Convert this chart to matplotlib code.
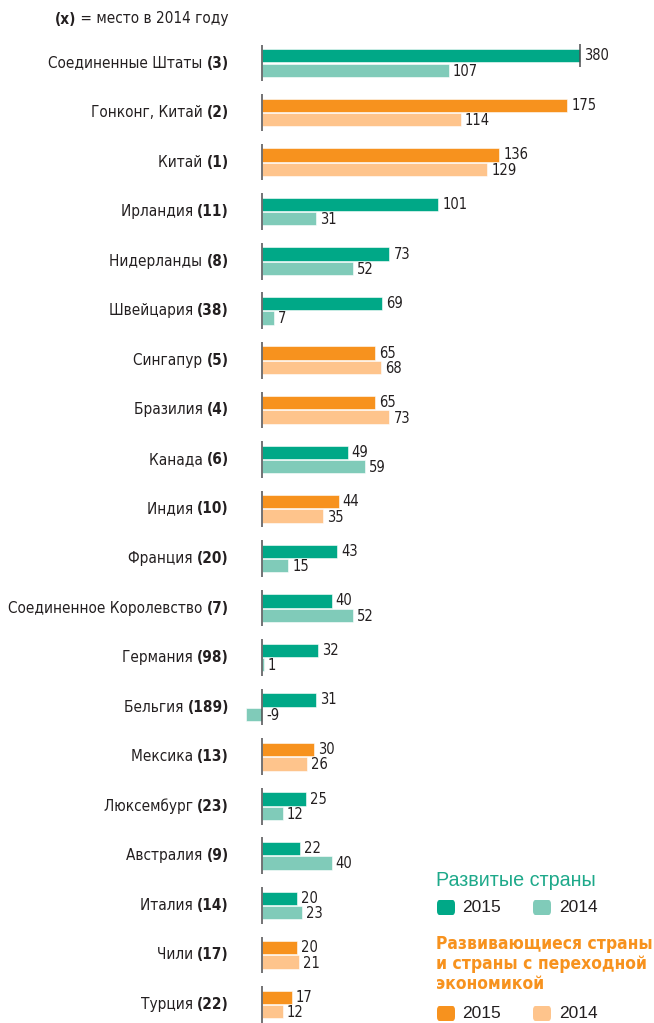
import matplotlib
matplotlib.use("Agg")
import matplotlib.pyplot as plt
import matplotlib.transforms as mtransforms
from matplotlib.patches import FancyBboxPatch

# ПИИ, млрд долл.: 2015 и 2014, (ранг в 2014)
countries = ["Соединенные Штаты", "Гонконг, Китай", "Китай", "Ирландия", "Нидерланды",
             "Швейцария", "Сингапур", "Бразилия", "Канада", "Индия", "Франция",
             "Соединенное Королевство", "Германия", "Бельгия", "Мексика", "Люксембург",
             "Австралия", "Италия", "Чили", "Турция"]
ranks_2014 = [3, 2, 1, 11, 8, 38, 5, 4, 6, 10, 20, 7, 98, 189, 13, 23, 9, 14, 17, 22]
fdi_2015 = [380, 175, 136, 101, 73, 69, 65, 65, 49, 44, 43, 40, 32, 31, 30, 25, 22, 20, 20, 17]
fdi_2014 = [107, 114, 129, 31, 52, 7, 68, 73, 59, 35, 15, 52, 1, -9, 26, 12, 40, 23, 21, 12]
developing = [False, True, True, False, False, False, True, True, False, True, False,
              False, False, False, True, False, False, False, True, True]

CLIP = 182  # бар длиннее этого значения обрезается

GREEN, GREEN_L = "#00a887", "#80cbb9"
ORANGE, ORANGE_L = "#f7921e", "#fec48c"
TXT = "#231f20"
COND = dict(family="DejaVu Sans", fontstretch="condensed")

W, H = 654, 1023
fig = plt.figure(figsize=(W / 100, H / 100), dpi=100)
ax = fig.add_axes([0, 0, 1, 1])
ax.axis("off")
px = 1.745  # пикселей на единицу
ax.set_xlim(-262 / px, (W - 262) / px)
step = 49.55
ax.set_ylim((H - 63) / step, -63 / step)

bh = 0.268
off = 0.145
for i in range(len(countries)):
    c1, c2 = (ORANGE, ORANGE_L) if developing[i] else (GREEN, GREEN_L)
    v1, v2 = fdi_2015[i], fdi_2014[i]
    w1 = min(v1, CLIP)
    ax.barh(i - off, w1, height=bh, color=c1, edgecolor="white", linewidth=0.4)
    ax.barh(i + off, v2, height=bh, color=c2, edgecolor="white", linewidth=0.4)
    ax.vlines(0, i - 0.37, i + 0.37, color="#4d4d4f", linewidth=1.1, zorder=3)
    if v1 > CLIP:
        ax.vlines(w1, i - 0.38, i + 0.08, color="#4d4d4f", linewidth=1.1, zorder=3)
    ax.annotate(str(v1), (w1, i - off), xytext=(4, 0), textcoords="offset pixels",
                ha="left", va="center", fontsize=10.5, color=TXT, **COND)
    ax.annotate(str(v2), (max(v2, 0), i + off + 0.02), xytext=(4, 0), textcoords="offset pixels",
                ha="left", va="center", fontsize=10.5, color=TXT, **COND)

fig.canvas.draw()
renderer = fig.canvas.get_renderer()
blend = mtransforms.blended_transform_factory(fig.transFigure, ax.transData)


def right_label(x_px, y, parts, size=11):
    # части (текст, жирный) выводятся справа налево
    shift = 0
    for text, bold in reversed(parts):
        t = ax.annotate(text, (x_px / W, y), xycoords=blend, xytext=(-shift, 0),
                        textcoords="offset pixels", ha="right", va="center",
                        fontsize=size, color=TXT,
                        fontweight="bold" if bold else "normal", **COND)
        shift += t.get_window_extent(renderer).width


for i, name in enumerate(countries):
    right_label(229, i, [(name + " ", False), ("(%d)" % ranks_2014[i], True)])

right_label(229, -44 / step, [("(x)", True), (" = место в 2014 году", False)])


def fx(x):
    return x / W


def fy(y):
    return 1 - y / H


def swatch(x, y, color):
    fig.patches.append(FancyBboxPatch((fx(x), fy(y + 15)), 18 / W, 15 / H,
                                      boxstyle="round,pad=0,rounding_size=0.004",
                                      transform=fig.transFigure, facecolor=color,
                                      edgecolor="none", figure=fig))


fig.text(fx(436), fy(880), "Развитые страны", fontsize=14.2, family="Liberation Sans",
         color="#1ea98a", va="center", ha="left")
swatch(437, 900, GREEN)
fig.text(fx(462), fy(908), "2015", fontsize=12.5, family="Liberation Sans", color=TXT, va="center")
swatch(533, 900, GREEN_L)
fig.text(fx(559), fy(908), "2014", fontsize=12.5, family="Liberation Sans", color=TXT, va="center")

fig.text(fx(436), fy(964), "Развивающиеся страны\nи страны с переходной\nэкономикой", fontsize=12.5,
         fontweight="bold", color=ORANGE, va="center", ha="left", linespacing=1.15, **COND)
swatch(437, 1006, ORANGE)
fig.text(fx(462), fy(1014), "2015", fontsize=12.5, family="Liberation Sans", color=TXT, va="center")
swatch(533, 1006, ORANGE_L)
fig.text(fx(559), fy(1014), "2014", fontsize=12.5, family="Liberation Sans", color=TXT, va="center")

fig.savefig("out.png", dpi=100, facecolor="white")
